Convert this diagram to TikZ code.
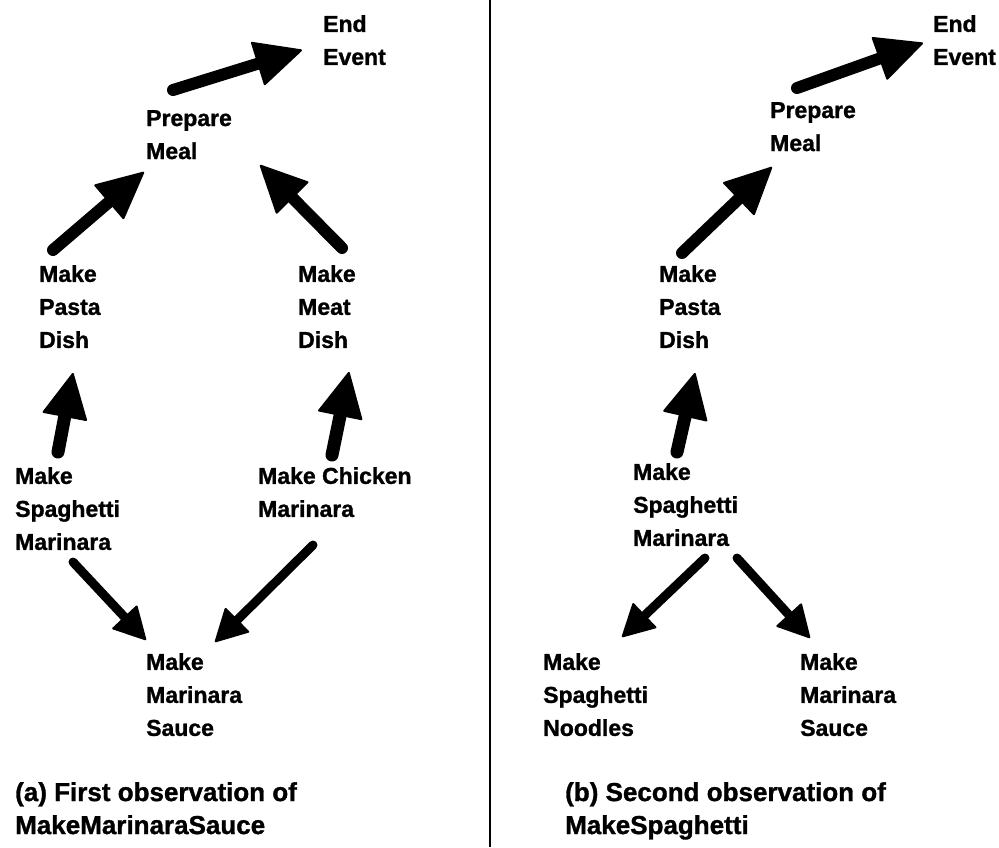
\documentclass[tikz,border=0pt]{standalone}
\usepackage{fontspec}
\setmainfont{Liberation Sans}[BoldFeatures={FakeBold=1.2}]
\usetikzlibrary{arrows.meta}
\begin{document}
\begin{tikzpicture}[x=1pt,y=-1pt,
  lbl/.style={anchor=north west, inner sep=0pt, align=left, font=\fontsize{23}{33}\selectfont\bfseries},
  capt/.style={anchor=north west, inner sep=0pt, align=left, font=\fontsize{26}{33}\selectfont\bfseries},
  bigarrow/.style={line width=12pt, line cap=round, -{Triangle[length=48pt,width=46pt,line width=2pt,round]}},
  uparrow/.style={line width=13pt, line cap=round, -{Triangle[length=46pt,width=46pt,line width=2pt,round]}},
  midarrow/.style={line width=9pt, line cap=round, -{Triangle[length=33pt,width=35pt,line width=2pt,round]}}]
\useasboundingbox (0,0) rectangle (999,847);
% divider
\coordinate (dtop) at (490,0);
\coordinate (dbot) at (490,847);
\draw[line width=2.5pt] (dtop) -- (dbot);

% ---- left panel ----
\node[lbl] (ee) at (323,15) {End\\Event};
\node[lbl] (pm) at (146,110) {Prepare\\Meal};
\node[lbl] (pd) at (39,265) {Make\\Pasta\\Dish};
\node[lbl] (md) at (298,265) {Make\\Meat\\Dish};
\node[lbl] (sm) at (15,467) {Make\\Spaghetti\\Marinara};
\node[lbl] (cm) at (258,467) {Make Chicken\\Marinara};
\node[lbl] (ms) at (146,653) {Make\\Marinara\\Sauce};
\node[capt] (capa) at (15,782) {(a) First observation of\\MakeMarinaraSauce};

\draw[bigarrow] ([shift={(27,-20)}]pm.north west) -- ([shift={(-21,35)}]ee.north west);
\draw[bigarrow] ([shift={(14,-15)}]pd.north west) -- ([shift={(-2,62)}]pm.north west);
\draw[bigarrow] ([shift={(44,-17)}]md.north west) -- ([shift={(114,55)}]pm.north west);
\draw[uparrow] ([shift={(43,-15)}]sm.north west) -- ([shift={(34,108)}]pd.north west);
\draw[uparrow] ([shift={(74,-12)}]cm.north west) -- ([shift={(51,107)}]md.north west);
\draw[midarrow] ([shift={(58,95)}]sm.north west) -- ([shift={(0,-13)}]ms.north west);
\draw[midarrow] ([shift={(55,78)}]cm.north west) -- ([shift={(69,-11)}]ms.north west);

% ---- right panel ----
\node[lbl] (ee2) at (933,15) {End\\Event};
\node[lbl] (pm2) at (770,102) {Prepare\\Meal};
\node[lbl] (pd2) at (659,265) {Make\\Pasta\\Dish};
\node[lbl] (sm2) at (633,463) {Make\\Spaghetti\\Marinara};
\node[lbl] (sn) at (543,653) {Make\\Spaghetti\\Noodles};
\node[lbl] (ms2) at (800,653) {Make\\Marinara\\Sauce};
\node[capt] (capb) at (565,782) {(b) Second observation of\\MakeSpaghetti};

\draw[bigarrow] ([shift={(27,-14)}]pm2.north west) -- ([shift={(-10,28)}]ee2.north west);
\draw[bigarrow] ([shift={(23,-12)}]pd2.north west) -- ([shift={(2,65)}]pm2.north west);
\draw[uparrow] ([shift={(44,-11)}]sm2.north west) -- ([shift={(36,108)}]pd2.north west);
\draw[midarrow] ([shift={(72,95)}]sm2.north west) -- ([shift={(79,-16)}]sn.north west);
\draw[midarrow] ([shift={(104,95)}]sm2.north west) -- ([shift={(10,-15)}]ms2.north west);
\end{tikzpicture}
\end{document}
